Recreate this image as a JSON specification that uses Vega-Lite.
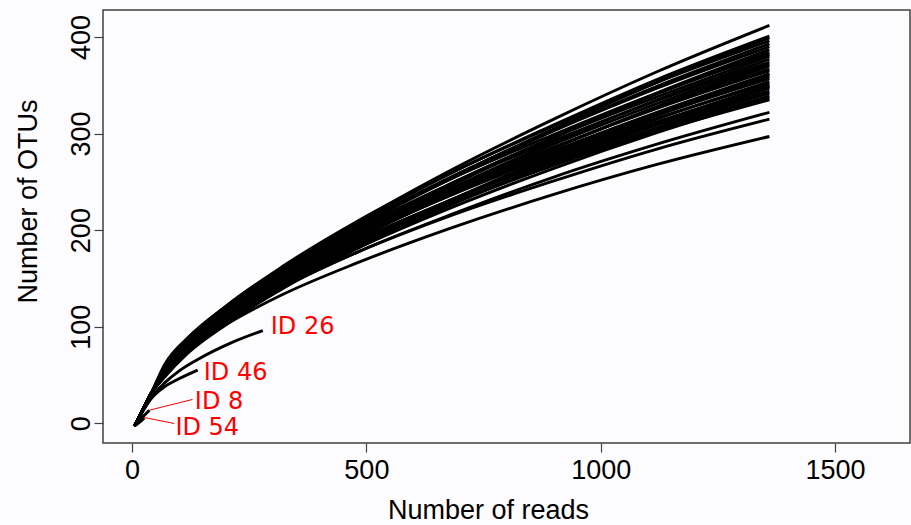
{
  "$schema": "https://vega.github.io/schema/vega-lite/v6.json",
  "width": 807,
  "height": 433,
  "autosize": {"type": "none"},
  "padding": {"left": 103, "top": 10, "right": 1, "bottom": 82},
  "background": "#fcfbfd",
  "config": {
    "view": {"stroke": "#404040", "strokeWidth": 1.5},
    "axis": {"grid": false, "domain": false, "tickSize": 9, "tickColor": "#404040", "tickWidth": 1.2,
      "labelFont": "Liberation Sans", "labelFontSize": 27, "labelColor": "#000000",
      "titleFont": "Liberation Sans", "titleFontSize": 27, "titleFontWeight": "normal", "titleColor": "#000000"}
  },
  "datasets": {
    "curves": [
      {"id":"A","n":5,"s":-3},{"id":"A","n":20,"s":11},{"id":"A","n":40,"s":30},{"id":"A","n":70,"s":54},{"id":"A","n":120,"s":83},{"id":"A","n":200,"s":117},{"id":"A","n":320,"s":159},{"id":"A","n":480,"s":208},{"id":"A","n":680,"s":262},{"id":"A","n":900,"s":315},{"id":"A","n":1120,"s":364},{"id":"A","n":1360,"s":412},
      {"id":"B","n":5,"s":-3},{"id":"B","n":20,"s":11},{"id":"B","n":40,"s":30},{"id":"B","n":70,"s":56},{"id":"B","n":120,"s":85},{"id":"B","n":200,"s":118},{"id":"B","n":320,"s":160},{"id":"B","n":480,"s":207},{"id":"B","n":680,"s":259},{"id":"B","n":900,"s":309},{"id":"B","n":1120,"s":356},{"id":"B","n":1360,"s":401},
      {"id":"C","n":5,"s":-3},{"id":"C","n":20,"s":11},{"id":"C","n":40,"s":30},{"id":"C","n":70,"s":53},{"id":"C","n":120,"s":81},{"id":"C","n":200,"s":113},{"id":"C","n":320,"s":154},{"id":"C","n":480,"s":202},{"id":"C","n":680,"s":254},{"id":"C","n":900,"s":305},{"id":"C","n":1120,"s":353},{"id":"C","n":1360,"s":399},
      {"id":"D","n":5,"s":-3},{"id":"D","n":20,"s":11},{"id":"D","n":40,"s":30},{"id":"D","n":70,"s":59},{"id":"D","n":120,"s":88},{"id":"D","n":200,"s":121},{"id":"D","n":320,"s":162},{"id":"D","n":480,"s":209},{"id":"D","n":680,"s":259},{"id":"D","n":900,"s":308},{"id":"D","n":1120,"s":353},{"id":"D","n":1360,"s":396},
      {"id":"E","n":5,"s":-3},{"id":"E","n":20,"s":11},{"id":"E","n":40,"s":30},{"id":"E","n":70,"s":55},{"id":"E","n":120,"s":83},{"id":"E","n":200,"s":116},{"id":"E","n":320,"s":156},{"id":"E","n":480,"s":203},{"id":"E","n":680,"s":253},{"id":"E","n":900,"s":303},{"id":"E","n":1120,"s":349},{"id":"E","n":1360,"s":393},
      {"id":"F","n":5,"s":-3},{"id":"F","n":20,"s":11},{"id":"F","n":40,"s":30},{"id":"F","n":70,"s":58},{"id":"F","n":120,"s":87},{"id":"F","n":200,"s":119},{"id":"F","n":320,"s":160},{"id":"F","n":480,"s":205},{"id":"F","n":680,"s":255},{"id":"F","n":900,"s":303},{"id":"F","n":1120,"s":347},{"id":"F","n":1360,"s":390},
      {"id":"G","n":5,"s":-3},{"id":"G","n":20,"s":11},{"id":"G","n":40,"s":30},{"id":"G","n":70,"s":51},{"id":"G","n":120,"s":78},{"id":"G","n":200,"s":110},{"id":"G","n":320,"s":150},{"id":"G","n":480,"s":196},{"id":"G","n":680,"s":246},{"id":"G","n":900,"s":296},{"id":"G","n":1120,"s":342},{"id":"G","n":1360,"s":387},
      {"id":"H","n":5,"s":-3},{"id":"H","n":20,"s":11},{"id":"H","n":40,"s":30},{"id":"H","n":70,"s":54},{"id":"H","n":120,"s":82},{"id":"H","n":200,"s":113},{"id":"H","n":320,"s":153},{"id":"H","n":480,"s":198},{"id":"H","n":680,"s":248},{"id":"H","n":900,"s":296},{"id":"H","n":1120,"s":341},{"id":"H","n":1360,"s":384},
      {"id":"AD","n":5,"s":-3},{"id":"AD","n":20,"s":11},{"id":"AD","n":40,"s":30},{"id":"AD","n":70,"s":61},{"id":"AD","n":120,"s":89},{"id":"AD","n":200,"s":121},{"id":"AD","n":320,"s":161},{"id":"AD","n":480,"s":205},{"id":"AD","n":680,"s":253},{"id":"AD","n":900,"s":299},{"id":"AD","n":1120,"s":342},{"id":"AD","n":1360,"s":382},
      {"id":"I","n":5,"s":-3},{"id":"I","n":20,"s":11},{"id":"I","n":40,"s":30},{"id":"I","n":70,"s":57},{"id":"I","n":120,"s":85},{"id":"I","n":200,"s":116},{"id":"I","n":320,"s":156},{"id":"I","n":480,"s":200},{"id":"I","n":680,"s":248},{"id":"I","n":900,"s":296},{"id":"I","n":1120,"s":338},{"id":"I","n":1360,"s":380},
      {"id":"J","n":5,"s":-3},{"id":"J","n":20,"s":11},{"id":"J","n":40,"s":30},{"id":"J","n":70,"s":53},{"id":"J","n":120,"s":80},{"id":"J","n":200,"s":111},{"id":"J","n":320,"s":150},{"id":"J","n":480,"s":194},{"id":"J","n":680,"s":243},{"id":"J","n":900,"s":291},{"id":"J","n":1120,"s":335},{"id":"J","n":1360,"s":377},
      {"id":"K","n":5,"s":-3},{"id":"K","n":20,"s":11},{"id":"K","n":40,"s":30},{"id":"K","n":70,"s":59},{"id":"K","n":120,"s":88},{"id":"K","n":200,"s":119},{"id":"K","n":320,"s":158},{"id":"K","n":480,"s":201},{"id":"K","n":680,"s":248},{"id":"K","n":900,"s":293},{"id":"K","n":1120,"s":334},{"id":"K","n":1360,"s":374},
      {"id":"AE","n":5,"s":-3},{"id":"AE","n":20,"s":11},{"id":"AE","n":40,"s":30},{"id":"AE","n":70,"s":55},{"id":"AE","n":120,"s":83},{"id":"AE","n":200,"s":114},{"id":"AE","n":320,"s":152},{"id":"AE","n":480,"s":196},{"id":"AE","n":680,"s":243},{"id":"AE","n":900,"s":289},{"id":"AE","n":1120,"s":331},{"id":"AE","n":1360,"s":372},
      {"id":"L","n":5,"s":-3},{"id":"L","n":20,"s":11},{"id":"L","n":40,"s":30},{"id":"L","n":70,"s":52},{"id":"L","n":120,"s":79},{"id":"L","n":200,"s":109},{"id":"L","n":320,"s":147},{"id":"L","n":480,"s":191},{"id":"L","n":680,"s":239},{"id":"L","n":900,"s":285},{"id":"L","n":1120,"s":328},{"id":"L","n":1360,"s":370},
      {"id":"M","n":5,"s":-3},{"id":"M","n":20,"s":11},{"id":"M","n":40,"s":30},{"id":"M","n":70,"s":55},{"id":"M","n":120,"s":82},{"id":"M","n":200,"s":112},{"id":"M","n":320,"s":150},{"id":"M","n":480,"s":193},{"id":"M","n":680,"s":240},{"id":"M","n":900,"s":285},{"id":"M","n":1120,"s":327},{"id":"M","n":1360,"s":367},
      {"id":"N","n":5,"s":-3},{"id":"N","n":20,"s":11},{"id":"N","n":40,"s":30},{"id":"N","n":70,"s":58},{"id":"N","n":120,"s":85},{"id":"N","n":200,"s":116},{"id":"N","n":320,"s":154},{"id":"N","n":480,"s":196},{"id":"N","n":680,"s":242},{"id":"N","n":900,"s":286},{"id":"N","n":1120,"s":326},{"id":"N","n":1360,"s":365},
      {"id":"O","n":5,"s":-3},{"id":"O","n":20,"s":11},{"id":"O","n":40,"s":30},{"id":"O","n":70,"s":54},{"id":"O","n":120,"s":81},{"id":"O","n":200,"s":111},{"id":"O","n":320,"s":148},{"id":"O","n":480,"s":191},{"id":"O","n":680,"s":237},{"id":"O","n":900,"s":282},{"id":"O","n":1120,"s":322},{"id":"O","n":1360,"s":362},
      {"id":"AF","n":5,"s":-3},{"id":"AF","n":20,"s":11},{"id":"AF","n":40,"s":30},{"id":"AF","n":70,"s":48},{"id":"AF","n":120,"s":73},{"id":"AF","n":200,"s":102},{"id":"AF","n":320,"s":140},{"id":"AF","n":480,"s":182},{"id":"AF","n":680,"s":230},{"id":"AF","n":900,"s":276},{"id":"AF","n":1120,"s":319},{"id":"AF","n":1360,"s":361},
      {"id":"P","n":5,"s":-3},{"id":"P","n":20,"s":11},{"id":"P","n":40,"s":30},{"id":"P","n":70,"s":50},{"id":"P","n":120,"s":76},{"id":"P","n":200,"s":106},{"id":"P","n":320,"s":143},{"id":"P","n":480,"s":185},{"id":"P","n":680,"s":231},{"id":"P","n":900,"s":277},{"id":"P","n":1120,"s":319},{"id":"P","n":1360,"s":359},
      {"id":"Q","n":5,"s":-3},{"id":"Q","n":20,"s":11},{"id":"Q","n":40,"s":30},{"id":"Q","n":70,"s":56},{"id":"Q","n":120,"s":84},{"id":"Q","n":200,"s":114},{"id":"Q","n":320,"s":150},{"id":"Q","n":480,"s":192},{"id":"Q","n":680,"s":237},{"id":"Q","n":900,"s":280},{"id":"Q","n":1120,"s":319},{"id":"Q","n":1360,"s":357},
      {"id":"R","n":5,"s":-3},{"id":"R","n":20,"s":11},{"id":"R","n":40,"s":30},{"id":"R","n":70,"s":52},{"id":"R","n":120,"s":79},{"id":"R","n":200,"s":108},{"id":"R","n":320,"s":145},{"id":"R","n":480,"s":186},{"id":"R","n":680,"s":231},{"id":"R","n":900,"s":275},{"id":"R","n":1120,"s":315},{"id":"R","n":1360,"s":354},
      {"id":"S","n":5,"s":-3},{"id":"S","n":20,"s":11},{"id":"S","n":40,"s":30},{"id":"S","n":70,"s":59},{"id":"S","n":120,"s":86},{"id":"S","n":200,"s":116},{"id":"S","n":320,"s":153},{"id":"S","n":480,"s":193},{"id":"S","n":680,"s":236},{"id":"S","n":900,"s":278},{"id":"S","n":1120,"s":316},{"id":"S","n":1360,"s":352},
      {"id":"AG","n":5,"s":-3},{"id":"AG","n":20,"s":11},{"id":"AG","n":40,"s":30},{"id":"AG","n":70,"s":49},{"id":"AG","n":120,"s":74},{"id":"AG","n":200,"s":103},{"id":"AG","n":320,"s":139},{"id":"AG","n":480,"s":181},{"id":"AG","n":680,"s":226},{"id":"AG","n":900,"s":270},{"id":"AG","n":1120,"s":311},{"id":"AG","n":1360,"s":350},
      {"id":"T","n":5,"s":-3},{"id":"T","n":20,"s":11},{"id":"T","n":40,"s":30},{"id":"T","n":70,"s":55},{"id":"T","n":120,"s":82},{"id":"T","n":200,"s":111},{"id":"T","n":320,"s":147},{"id":"T","n":480,"s":188},{"id":"T","n":680,"s":231},{"id":"T","n":900,"s":274},{"id":"T","n":1120,"s":312},{"id":"T","n":1360,"s":349},
      {"id":"U","n":5,"s":-3},{"id":"U","n":20,"s":11},{"id":"U","n":40,"s":30},{"id":"U","n":70,"s":51},{"id":"U","n":120,"s":77},{"id":"U","n":200,"s":106},{"id":"U","n":320,"s":142},{"id":"U","n":480,"s":183},{"id":"U","n":680,"s":227},{"id":"U","n":900,"s":270},{"id":"U","n":1120,"s":309},{"id":"U","n":1360,"s":347},
      {"id":"V","n":5,"s":-3},{"id":"V","n":20,"s":11},{"id":"V","n":40,"s":30},{"id":"V","n":70,"s":58},{"id":"V","n":120,"s":85},{"id":"V","n":200,"s":114},{"id":"V","n":320,"s":149},{"id":"V","n":480,"s":189},{"id":"V","n":680,"s":231},{"id":"V","n":900,"s":272},{"id":"V","n":1120,"s":309},{"id":"V","n":1360,"s":344},
      {"id":"W","n":5,"s":-3},{"id":"W","n":20,"s":11},{"id":"W","n":40,"s":30},{"id":"W","n":70,"s":54},{"id":"W","n":120,"s":80},{"id":"W","n":200,"s":109},{"id":"W","n":320,"s":144},{"id":"W","n":480,"s":184},{"id":"W","n":680,"s":227},{"id":"W","n":900,"s":268},{"id":"W","n":1120,"s":306},{"id":"W","n":1360,"s":342},
      {"id":"X","n":5,"s":-3},{"id":"X","n":20,"s":11},{"id":"X","n":40,"s":30},{"id":"X","n":70,"s":57},{"id":"X","n":120,"s":83},{"id":"X","n":200,"s":112},{"id":"X","n":320,"s":147},{"id":"X","n":480,"s":186},{"id":"X","n":680,"s":228},{"id":"X","n":900,"s":268},{"id":"X","n":1120,"s":304},{"id":"X","n":1360,"s":339},
      {"id":"Y","n":5,"s":-3},{"id":"Y","n":20,"s":11},{"id":"Y","n":40,"s":30},{"id":"Y","n":70,"s":53},{"id":"Y","n":120,"s":79},{"id":"Y","n":200,"s":107},{"id":"Y","n":320,"s":142},{"id":"Y","n":480,"s":181},{"id":"Y","n":680,"s":223},{"id":"Y","n":900,"s":264},{"id":"Y","n":1120,"s":301},{"id":"Y","n":1360,"s":337},
      {"id":"Z","n":5,"s":-3},{"id":"Z","n":20,"s":11},{"id":"Z","n":40,"s":30},{"id":"Z","n":70,"s":60},{"id":"Z","n":120,"s":86},{"id":"Z","n":200,"s":115},{"id":"Z","n":320,"s":150},{"id":"Z","n":480,"s":188},{"id":"Z","n":680,"s":228},{"id":"Z","n":900,"s":267},{"id":"Z","n":1120,"s":302},{"id":"Z","n":1360,"s":335},
      {"id":"AA","n":5,"s":-3},{"id":"AA","n":20,"s":11},{"id":"AA","n":40,"s":30},{"id":"AA","n":70,"s":54},{"id":"AA","n":120,"s":79},{"id":"AA","n":200,"s":106},{"id":"AA","n":320,"s":140},{"id":"AA","n":480,"s":177},{"id":"AA","n":680,"s":216},{"id":"AA","n":900,"s":255},{"id":"AA","n":1120,"s":289},{"id":"AA","n":1360,"s":322},
      {"id":"AB","n":5,"s":-3},{"id":"AB","n":20,"s":11},{"id":"AB","n":40,"s":30},{"id":"AB","n":70,"s":56},{"id":"AB","n":120,"s":81},{"id":"AB","n":200,"s":108},{"id":"AB","n":320,"s":141},{"id":"AB","n":480,"s":177},{"id":"AB","n":680,"s":215},{"id":"AB","n":900,"s":251},{"id":"AB","n":1120,"s":284},{"id":"AB","n":1360,"s":315},
      {"id":"AC","n":5,"s":-3},{"id":"AC","n":20,"s":11},{"id":"AC","n":40,"s":30},{"id":"AC","n":70,"s":53},{"id":"AC","n":120,"s":77},{"id":"AC","n":200,"s":102},{"id":"AC","n":320,"s":133},{"id":"AC","n":480,"s":166},{"id":"AC","n":680,"s":202},{"id":"AC","n":900,"s":237},{"id":"AC","n":1120,"s":268},{"id":"AC","n":1360,"s":297},
      {"id":"ID26","n":5,"s":-3},{"id":"ID26","n":20,"s":10},{"id":"ID26","n":40,"s":26},{"id":"ID26","n":70,"s":42},{"id":"ID26","n":100,"s":54},{"id":"ID26","n":140,"s":66},{"id":"ID26","n":210,"s":83},{"id":"ID26","n":279,"s":96},
      {"id":"ID46","n":5,"s":-3},{"id":"ID46","n":20,"s":10},{"id":"ID46","n":40,"s":25},{"id":"ID46","n":70,"s":38},{"id":"ID46","n":100,"s":46},{"id":"ID46","n":140,"s":55},
      {"id":"ID8","n":5,"s":-3},{"id":"ID8","n":20,"s":5},{"id":"ID8","n":37,"s":13.5},
      {"id":"ID54","n":5,"s":-3},{"id":"ID54","n":15,"s":0.5},{"id":"ID54","n":26,"s":5.5}
    ],
    "leaders": [
      {"label":"ID 8","n":37,"s":13.5,"n2":129,"s2":24.6},
      {"label":"ID 54","n":26,"s":5.9,"n2":90,"s2":-0.3}
    ],
    "labels": [
      {"label":"ID 26","n":296,"s":100},
      {"label":"ID 46","n":153,"s":52.3},
      {"label":"ID 8","n":134,"s":21.8},
      {"label":"ID 54","n":92.5,"s":-4.5}
    ]
  },
  "encoding": {
    "x": {"field": "n", "type": "quantitative",
      "scale": {"domain": [-62, 1660], "nice": false, "zero": false},
      "axis": {"title": "Number of reads", "values": [0, 500, 1000, 1500], "format": "d", "labelPadding": 5, "labelFlush": false, "titleX": 385, "titleY": 75, "titleBaseline": "alphabetic", "titleAnchor": "middle"}},
    "y": {"field": "s", "type": "quantitative",
      "scale": {"domain": [-20.5, 428], "nice": false, "zero": false},
      "axis": {"title": "Number of OTUs", "values": [0, 100, 200, 300, 400], "format": "d", "labelAngle": -90, "labelAlign": "center", "labelBaseline": "alphabetic", "labelPadding": 5, "titleX": -67, "titleY": 191, "titleBaseline": "alphabetic", "titleAnchor": "middle"}}
  },
  "layer": [
    {"data": {"name": "curves"},
      "mark": {"type": "line", "color": "#000000", "strokeWidth": 2.9, "interpolate": "monotone", "strokeCap": "butt"},
      "encoding": {"detail": {"field": "id", "type": "nominal"}}},
    {"data": {"name": "leaders"},
      "mark": {"type": "rule", "color": "#ff0000", "strokeWidth": 1},
      "encoding": {"x2": {"field": "n2"}, "y2": {"field": "s2"}}},
    {"data": {"name": "labels"},
      "mark": {"type": "text", "color": "#ff0000", "font": "DejaVu Sans", "fontSize": 24, "align": "left", "baseline": "middle"},
      "encoding": {"text": {"field": "label", "type": "nominal"}}}
  ]
}
